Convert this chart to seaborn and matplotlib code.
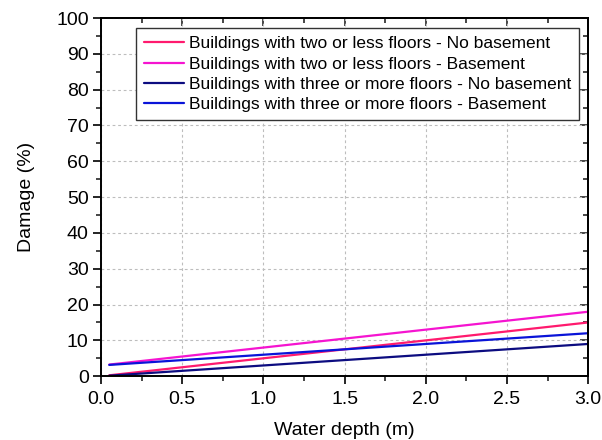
import numpy as np
import pandas as pd
import matplotlib
matplotlib.use("Agg")
import matplotlib.pyplot as plt
from matplotlib.ticker import MultipleLocator, FormatStrFormatter
import seaborn as sns

sns.set_style("ticks")
plt.rcParams["font.family"] = ["Liberation Sans", "DejaVu Sans"]
plt.rcParams["text.color"] = "black"
plt.rcParams["axes.labelcolor"] = "black"

depth = [0.05, 0.5, 1.0, 1.5, 2.0, 2.5, 3.0]
two_less_no_basement = [0.25, 2.5, 5.0, 7.5, 10.0, 12.5, 15.0]
two_less_basement = [3.25, 5.5, 8.0, 10.5, 13.0, 15.5, 18.0]
three_more_no_basement = [0.15, 1.5, 3.0, 4.5, 6.0, 7.5, 9.0]
three_more_basement = [3.15, 4.5, 6.0, 7.5, 9.0, 10.5, 12.0]

series_names = [
    "Buildings with two or less floors - No basement",
    "Buildings with two or less floors - Basement",
    "Buildings with three or more floors - No basement",
    "Buildings with three or more floors - Basement",
]
series_values = [two_less_no_basement, two_less_basement,
                 three_more_no_basement, three_more_basement]
colors = ["#FF1A6E", "#F514D0", "#0C0C80", "#0A14D8"]

df = pd.concat(
    [pd.DataFrame({"depth": depth, "damage": v, "type": n})
     for n, v in zip(series_names, series_values)],
    ignore_index=True,
)

fig = plt.figure(figsize=(6.02, 4.40), dpi=100)
ax = fig.add_axes([0.168, 0.145, 0.809, 0.814])

sns.lineplot(data=df, x="depth", y="damage", hue="type",
             hue_order=series_names, palette=colors, linewidth=1.6, ax=ax)

ax.set_xlim(0, 3.0)
ax.set_ylim(0, 100)
ax.xaxis.set_major_locator(MultipleLocator(0.5))
ax.xaxis.set_minor_locator(MultipleLocator(0.25))
ax.yaxis.set_major_locator(MultipleLocator(10))
ax.yaxis.set_minor_locator(MultipleLocator(5))
ax.xaxis.set_major_formatter(FormatStrFormatter("%.1f"))

ax.grid(True, which="major", linestyle=(0, (2.5, 2.5)), color="#bdbdbd", linewidth=0.8)
ax.set_axisbelow(True)

for s in ax.spines.values():
    s.set_visible(True)
    s.set_linewidth(1.4)
    s.set_color("black")

ax.tick_params(which="major", direction="out", length=6, width=1.2,
               labelsize=14, colors="black", pad=3)
ax.tick_params(which="minor", direction="out", length=3.5, width=1.2)
ax.tick_params(axis="x", which="major", pad=5)

# mirrored inward ticks on top and right
top = ax.secondary_xaxis("top")
top.xaxis.set_major_locator(MultipleLocator(0.5))
top.xaxis.set_minor_locator(MultipleLocator(0.25))
top.tick_params(which="major", direction="in", length=6, width=1.2, labeltop=False)
top.tick_params(which="minor", direction="in", length=3.5, width=1.2)
right = ax.secondary_yaxis("right")
right.yaxis.set_major_locator(MultipleLocator(10))
right.yaxis.set_minor_locator(MultipleLocator(5))
right.tick_params(which="major", direction="in", length=6, width=1.2, labelright=False)
right.tick_params(which="minor", direction="in", length=3.5, width=1.2)
for sec in (top, right):
    for s in sec.spines.values():
        s.set_linewidth(1.4)

ax.set_xlabel("Water depth (m)", fontsize=14, labelpad=10)
ax.set_ylabel("Damage (%)", fontsize=14, labelpad=15)

leg = ax.legend(loc="upper right", bbox_to_anchor=(0.981, 0.971), fontsize=12.5,
                frameon=True, fancybox=False, framealpha=1, edgecolor="#333333",
                handlelength=2.3, handletextpad=0.3, borderpad=0.45,
                borderaxespad=0, labelspacing=0.3)
leg.get_frame().set_linewidth(1.0)
leg.set_title(None)

fig.savefig("out.png", dpi=100)
